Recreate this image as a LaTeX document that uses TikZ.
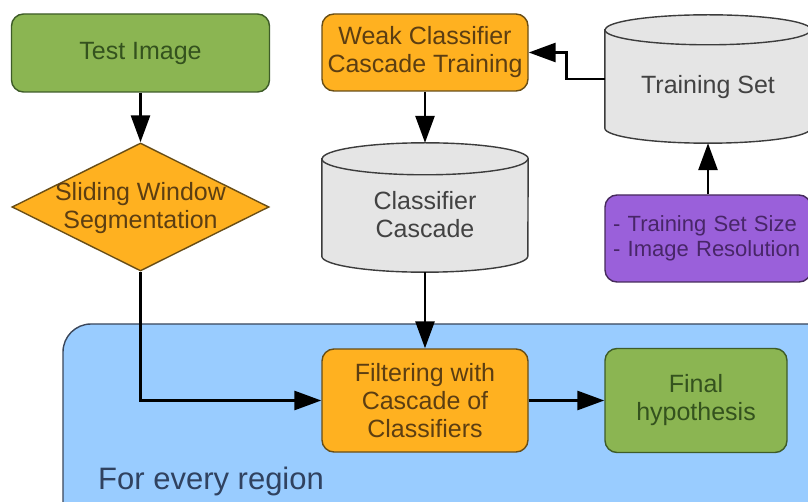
\documentclass[tikz,border=0pt]{standalone}
\usepackage{fontspec}
\setmainfont{Liberation Sans}
\usetikzlibrary{shapes.geometric,arrows.meta,calc}
\definecolor{gfill}{RGB}{139,181,82}
\definecolor{gline}{RGB}{62,92,40}
\definecolor{gtext}{RGB}{52,82,30}
\definecolor{ofill}{RGB}{255,177,32}
\definecolor{oline}{RGB}{105,78,22}
\definecolor{otext}{RGB}{92,62,18}
\definecolor{cfill}{RGB}{229,229,229}
\definecolor{cline}{RGB}{60,60,60}
\definecolor{ctext}{RGB}{66,66,66}
\definecolor{pfill}{RGB}{154,96,218}
\definecolor{pline}{RGB}{70,42,92}
\definecolor{ptext}{RGB}{72,38,104}
\definecolor{bfill}{RGB}{153,204,255}
\definecolor{bline}{RGB}{58,70,90}
\definecolor{btext}{RGB}{48,66,96}
\tikzset{
  mainfont/.style={font=\fontsize{25}{28}\selectfont, align=center},
  box/.style={rectangle, rounded corners=12pt, line width=1.4pt, inner sep=0pt, mainfont},
  gbox/.style={box, draw=gline, fill=gfill, text=gtext},
  obox/.style={box, draw=oline, fill=ofill, text=otext},
  pbox/.style={box, draw=pline, fill=pfill, text=ptext, align=left, font=\fontsize{22}{25}\selectfont},
  cylnode/.style={rectangle, inner sep=0pt},
  cylbody/.style={draw=cline, fill=cfill, line width=1.4pt},
  cyltext/.style={mainfont, text=ctext},
  arr/.style={-{Triangle[length=27pt 0 0,width=19pt 0 0]}, line width=2.8pt, draw=black},
}
\begin{document}
\begin{tikzpicture}[x=1pt,y=-1pt]
\useasboundingbox (0,0) rectangle (808,502);
\clip (0,0) rectangle (808,502);
\fill[white] (0,0) rectangle (808,502);

% region
\node[rectangle, rounded corners=28pt, draw=bline, fill=bfill, line width=1.4pt,
      minimum width=777pt, minimum height=216pt, inner sep=0pt] (region) at (451.5,432) {};
\node[anchor=base west, font=\fontsize{31}{34}\selectfont, text=btext, inner sep=0pt] (regtext) at (98,489) {For every region};

% nodes
\node[gbox, minimum width=258pt, minimum height=78pt] (test) at (140.5,53) {Test Image};
\node[diamond, draw=oline, fill=ofill, line width=1.4pt, inner sep=0pt,
      minimum width=257pt, minimum height=128pt] (sw) at (140.5,207) {};
\node[mainfont, text=otext, inner sep=0pt] (swt) at (140.5,208) {Sliding Window\\Segmentation};

\node[obox, minimum width=206pt, minimum height=77pt] (wk) at (425,52.5) {Weak Classifier\\Cascade Training};

\node[cylnode, minimum width=206pt, minimum height=129pt] (cc) at (425,207.5) {};
\filldraw[cylbody] ([yshift=-16pt]cc.north west) -- ([yshift=16pt]cc.south west)
   arc[start angle=180,end angle=360,x radius=103pt,y radius=16pt]
   -- ([yshift=-16pt]cc.north east)
   arc[start angle=0,end angle=180,x radius=103pt,y radius=16pt] -- cycle;
\draw[cylbody, fill=none] ([yshift=-16pt]cc.north west)
   arc[start angle=180,end angle=360,x radius=103pt,y radius=16pt];
\node[cyltext, inner sep=0pt] (cct) at (425,215) {Classifier\\Cascade};

\node[cylnode, minimum width=206pt, minimum height=128pt] (ts) at (708,79) {};
\filldraw[cylbody] ([yshift=-15pt]ts.north west) -- ([yshift=15pt]ts.south west)
   arc[start angle=180,end angle=360,x radius=103pt,y radius=15pt]
   -- ([yshift=-15pt]ts.north east)
   arc[start angle=0,end angle=180,x radius=103pt,y radius=15pt] -- cycle;
\draw[cylbody, fill=none] ([yshift=-15pt]ts.north west)
   arc[start angle=180,end angle=360,x radius=103pt,y radius=15pt];
\node[cyltext, inner sep=0pt] (tst) at (708,87) {Training Set};

\node[pbox, minimum width=206pt, minimum height=87pt, text width=190pt] (pp) at (708,238.5) {- Training Set Size\\- Image Resolution};

\node[obox, minimum width=206pt, minimum height=103pt] (fil) at (425,400.5) {Filtering with\\Cascade of\\Classifiers};
\node[gbox, minimum width=182pt, minimum height=104pt] (fin) at (696,400.5) {Final\\hypothesis};

% connectors
\draw[arr] (test.south) -- (sw.north);
\draw[arr] (wk.south) -- (cc.north);
\draw[arr] (ts.west) -- ++(-38,0) |- (wk.east);
\draw[arr] (pp.north) -- (ts.south);
\draw[arr] (cc.south) -- (fil.north);
\draw[arr] (sw.south) |- (fil.west);
\draw[arr] (fil.east) -- (fin.west);
\end{tikzpicture}
\end{document}
